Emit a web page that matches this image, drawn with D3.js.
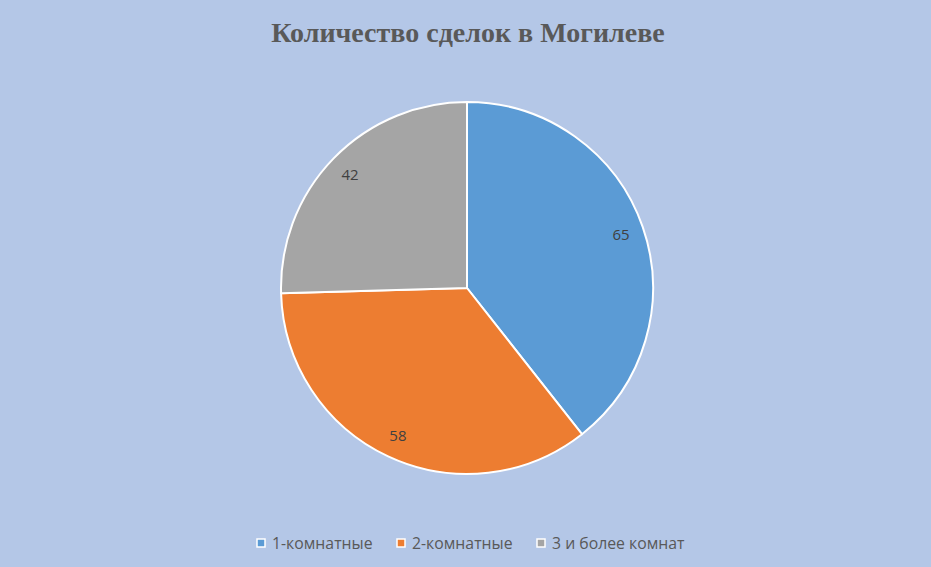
<!DOCTYPE html>
<html>
<head>
<meta charset="utf-8">
<script src="https://cdn.jsdelivr.net/npm/d3@7"></script>
<style>
  body { margin: 0; background: #b4c7e7; }
</style>
</head>
<body>
<div id="chart"></div>
<script>
var categories = ['1-комнатные', '2-комнатные', '3 и более комнат'];
var values = [65, 58, 42];
var colors = ['#5b9bd5', '#ed7d31', '#a5a5a5'];
var title = 'Количество сделок в Могилеве';

var width = 931;
var height = 567;
var cx = 467, cy = 288, radius = 186;

var svg = d3.select('#chart')
    .append('svg')
    .attr('width', width)
    .attr('height', height);

svg.append('rect')
    .attr('width', width)
    .attr('height', height)
    .attr('fill', '#b4c7e7');

// Title
svg.append('text')
    .attr('x', 468)
    .attr('y', 42)
    .attr('text-anchor', 'middle')
    .attr('font-family', '"Liberation Serif", "Times New Roman", serif')
    .attr('font-weight', 'bold')
    .attr('font-size', 28)
    .attr('fill', '#595959')
    .text(title);

var data = categories.map((c, i) => ({ name: c, value: values[i], color: colors[i] }));

var pie = d3.pie()
    .sort(null)
    .value((d) => d.value);

var arc = d3.arc()
    .innerRadius(0)
    .outerRadius(radius);

var labelArc = d3.arc()
    .innerRadius(163)
    .outerRadius(163);

var g = svg.append('g')
    .attr('transform', 'translate(' + cx + ',' + cy + ')');

g.selectAll('path')
    .data(pie(data))
    .enter()
    .append('path')
    .attr('d', arc)
    .attr('fill', (d) => d.data.color)
    .attr('stroke', '#ffffff')
    .attr('stroke-width', 2)
    .attr('stroke-linejoin', 'round');

g.selectAll('text')
    .data(pie(data))
    .enter()
    .append('text')
    .attr('transform', (d) => 'translate(' + labelArc.centroid(d) + ')')
    .attr('text-anchor', 'middle')
    .attr('dy', '0.35em')
    .attr('font-family', '"Open Sans", Calibri, sans-serif')
    .attr('font-size', 15)
    .attr('fill', '#404040')
    .text((d) => d.data.value);

// Legend
var legendX = [257, 397, 537];
var legend = svg.append('g')
    .selectAll('g')
    .data(data)
    .enter()
    .append('g')
    .attr('transform', (d, i) => 'translate(' + legendX[i] + ',' + 543 + ')');

legend.append('rect')
    .attr('x', 0)
    .attr('y', -4)
    .attr('width', 8)
    .attr('height', 8)
    .attr('fill', (d) => d.color)
    .attr('stroke', '#ffffff')
    .attr('stroke-width', 1.5);

legend.append('text')
    .attr('x', 15)
    .attr('y', 0)
    .attr('dy', '0.35em')
    .attr('font-family', '"Open Sans", Calibri, sans-serif')
    .attr('font-size', 15.8)
    .attr('fill', '#595959')
    .text((d) => d.name);
</script>
</body>
</html>
